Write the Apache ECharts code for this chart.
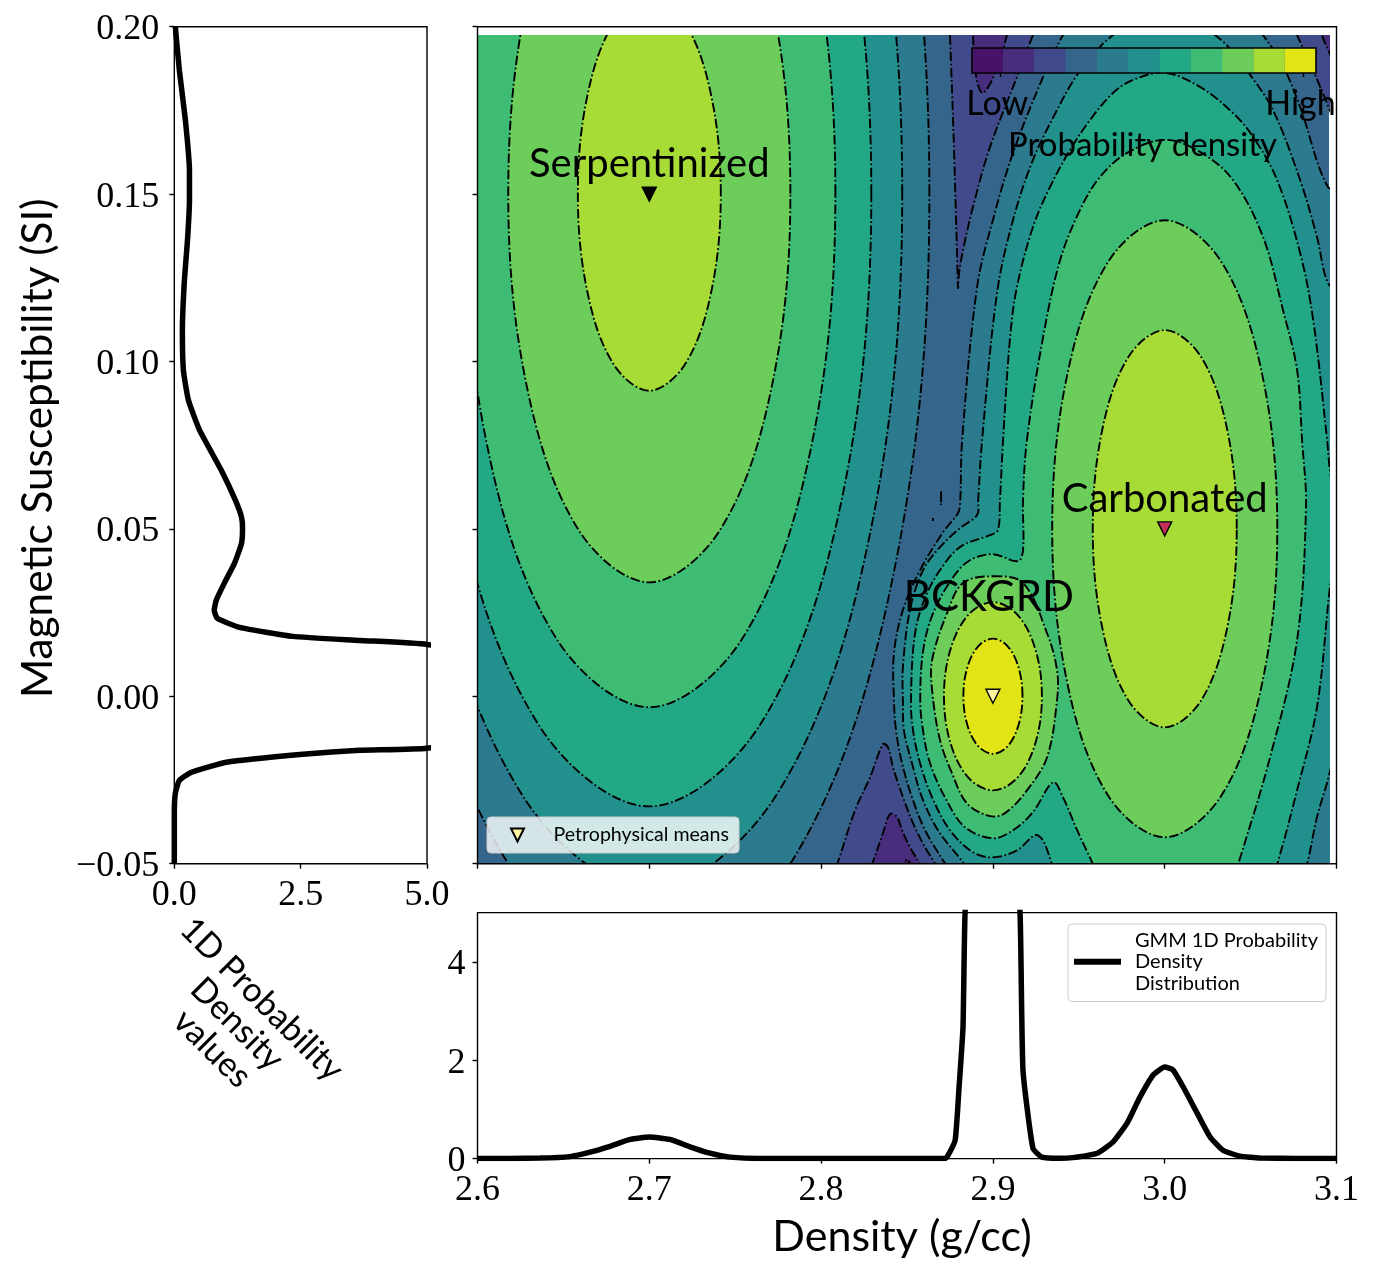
<!DOCTYPE html>
<html><head><meta charset="utf-8">
<style>html,body{margin:0;padding:0;background:#fff}#c{width:1373px;height:1276px}</style>
<script src="https://cdn.jsdelivr.net/npm/echarts@6/dist/echarts.min.js"></script>
</head><body><div id="c"></div>
<script>
// ---- colour bar / contour levels (cell 1 = lowest probability density)
const cellColors = ['#481268','#482d7c','#414a8a','#35658a','#2b7a8e','#22908c','#22a885','#3ebc74','#6ccd5b','#a6dc35','#e3e416'];
const cellIndex = [0,1,2,3,4,5,6,7,8,9,10];
const rockNames = ['Serpentinized','BCKGRD','Carbonated'];
const rockDensity = [2.7,2.9,3.0];
const rockSusceptibility = [0.15,0.0,0.05];
const rockColors = ['#000000','#fdf6a0','#c4305c'];

// ---- contour outlines: [density, susceptibility]
const pocketTop3 = [[2.8745,.2019],[2.875,.1974],[2.8774,.1622],[2.8791,.1323],[2.8797,.1219],[2.8803,.1264],[2.8826,.1332],[2.8884,.1461],[2.8983,.164],[2.914,.1849],[2.9233,.1974],[2.9274,.2019]];
const pocketTop2 = [[2.8878,.2019],[2.8884,.1974],[2.8896,.187],[2.8937,.1801],[2.8995,.184],[2.9059,.193],[2.9082,.1974],[2.9117,.2019]];
const valleyLow3 = [[2.8052,-.055],[2.8093,-.0502],[2.8197,-.0341],[2.8285,-.0242],[2.836,-.0143],[2.8389,-.0152],[2.8418,-.0212],[2.8477,-.0302],[2.8535,-.0379],[2.8605,-.0451],[2.8663,-.0499],[2.8721,-.055]];
const valleyLow2 = [[2.8255,-.055],[2.8296,-.0502],[2.836,-.0409],[2.8401,-.0352],[2.8442,-.0361],[2.8471,-.04],[2.8517,-.0451],[2.8576,-.0502],[2.8617,-.055]];
const valleyLow1 = [[2.8471,-.0526],[2.85,-.0487],[2.8529,-.0526]];
const cornerRight3 = [[3.073,.2019],[3.077,.1974],[3.0875,.1855],[3.0956,.1756],[3.1049,.1646],[3.1049,.2019]];
const cornerRight2 = [[3.0904,.2019],[3.0915,.1974],[3.0956,.1924],[3.1019,.1846],[3.1049,.2019]];
const serp5 = [[2.863,.15],[2.8412,.2658],[2.7815,.3505],[2.7,.3815],[2.6185,.3505],[2.5588,.2658],[2.537,.15],[2.5588,.0342],[2.6185,-.0505],[2.7,-.0815],[2.7815,-.0505],[2.8412,.0342]];
const serp6 = [[2.8472,.15],[2.8275,.2538],[2.7736,.3298],[2.7,.3576],[2.6264,.3298],[2.5725,.2538],[2.5528,.15],[2.5725,.0462],[2.6264,-.0298],[2.7,-.0576],[2.7736,-.0298],[2.8275,.0462]];
const serp7 = [[2.8292,.15],[2.8119,.2415],[2.7646,.3084],[2.7,.3329],[2.6354,.3084],[2.5881,.2415],[2.5708,.15],[2.5881,.0585],[2.6354,-.0084],[2.7,-.0329],[2.7646,-.0084],[2.8119,.0585]];
const serp8 = [[2.8083,.15],[2.7938,.2266],[2.7541,.2828],[2.7,.3033],[2.6459,.2828],[2.6062,.2266],[2.5917,.15],[2.6062,.0734],[2.6459,.0172],[2.7,-.0033],[2.7541,.0172],[2.7938,.0734]];
const serp9 = [[2.7821,.15],[2.7711,.208],[2.741,.2505],[2.7,.266],[2.659,.2505],[2.6289,.208],[2.6179,.15],[2.6289,.092],[2.659,.0495],[2.7,.034],[2.741,.0495],[2.7711,.092]];
const serp10 = [[2.7416,.15],[2.736,.1794],[2.7208,.2009],[2.7,.2088],[2.6792,.2009],[2.664,.1794],[2.6584,.15],[2.664,.1206],[2.6792,.0991],[2.7,.0912],[2.7208,.0991],[2.736,.1206]];
const merged5 = [[2.9478,.2019],[2.9408,.1974],[2.9292,.1849],[2.9117,.1622],[2.9,.1422],[2.8908,.1222],[2.8821,.0765],[2.8809,.0576],[2.8797,.0547],[2.871,.049],[2.8576,.0376],[2.8476,.0257],[2.8424,.0128],[2.8424,-.0012],[2.8436,-.0102],[2.8471,-.02],[2.8529,-.0302],[2.8605,-.04],[2.8721,-.0499],[2.879,-.055],[3.1049,-.055],[3.1049,.152],[3.095,.152],[3.0788,.1759],[3.0672,.19],[3.0572,.1974],[3.0525,.2019]];
const merged6 = [[2.9786,.2013],[2.9699,.1974],[2.9635,.1945],[2.949,.1855],[2.9373,.175],[2.9233,.1601],[2.9117,.1422],[2.9024,.1204],[2.8937,.0765],[2.8914,.0585],[2.8908,.0541],[2.8809,.0502],[2.8692,.0445],[2.8593,.0376],[2.8517,.0257],[2.8476,.0087],[2.8476,-.0012],[2.8482,-.0102],[2.8529,-.02],[2.8587,-.0302],[2.868,-.04],[2.8826,-.0496],[2.8896,-.055],[3.079,-.055],[3.0828,-.0502],[3.0886,-.0361],[3.0956,-.0236],[3.1049,-.0012],[3.1049,.1183],[3.095,.1234],[3.0886,.1371],[3.0788,.1541],[3.063,.175],[3.0497,.1855],[3.0369,.1939],[3.0293,.1974],[3.0205,.2013]];
const merged7 = [[3,.1861],[2.9816,.184],[2.9699,.1801],[2.9565,.172],[2.9449,.1631],[2.9332,.152],[2.9233,.1401],[2.914,.1222],[2.91,.1072],[2.9059,.0765],[2.9041,.0585],[2.9029,.0496],[2.8983,.0481],[2.8826,.0451],[2.8733,.0406],[2.8617,.0308],[2.8547,.0188],[2.8523,-.0012],[2.8535,-.0102],[2.8576,-.02],[2.8646,-.0302],[2.875,-.04],[2.8884,-.0466],[2.9,-.0481],[2.914,-.046],[2.9245,-.0415],[2.9291,-.043],[2.9344,-.0502],[2.9379,-.055],[3.0613,-.055],[3.0654,-.0502],[3.077,-.0281],[3.0886,-.0033],[3.0956,.0302],[3.0997,.0496],[3.0956,.0699],[3.0945,.0765],[3.0864,.1123],[3.0788,.1323],[3.0654,.1541],[3.0514,.167],[3.0397,.1741],[3.0205,.1819]];
const merged8 = [[3,.1661],[2.9781,.1622],[2.9623,.155],[2.9507,.1452],[2.9391,.1302],[2.9292,.1072],[2.9198,.0765],[2.9175,.0585],[2.9175,.0436],[2.9146,.0403],[2.9,.0424],[2.8866,.0406],[2.8768,.0355],[2.8652,.0248],[2.8594,.0137],[2.8577,-.0012],[2.8593,-.0102],[2.8634,-.02],[2.8721,-.0302],[2.8837,-.0391],[2.9,-.0424],[2.9117,-.04],[2.9233,-.0346],[2.935,-.0257],[2.9408,-.0302],[2.949,-.04],[2.9583,-.0502],[2.9623,-.055],[3.0392,-.055],[3.0427,-.0502],[3.0613,-.0182],[3.077,.0167],[3.0822,.0565],[3.0799,.0765],[3.077,.0974],[3.0688,.1153],[3.0572,.1371],[3.0397,.1541],[3.0205,.1625]];
const bck9 = [[2.9,.0358],[2.9175,.0338],[2.9315,.0188],[2.9373,.0078],[2.9373,-.0012],[2.9315,-.0182],[2.9198,-.0281],[2.907,-.0349],[2.8983,-.0358],[2.8849,-.032],[2.8762,-.023],[2.8692,-.0131],[2.8646,.0018],[2.8646,.0108],[2.8733,.0248],[2.8826,.0338]];
const bck10 = [[2.9285,0],[2.9247,.014],[2.9143,.0243],[2.9,.0281],[2.8857,.0243],[2.8753,.014],[2.8715,0],[2.8753,-.014],[2.8857,-.0243],[2.9,-.0281],[2.9143,-.0243],[2.9247,-.014]];
const bck11 = [[2.9172,0],[2.9149,.0086],[2.9086,.0149],[2.9,.0172],[2.8914,.0149],[2.8851,.0086],[2.8828,0],[2.8851,-.0086],[2.8914,-.0149],[2.9,-.0172],[2.9086,-.0149],[2.9149,-.0086]];
const carb9 = [[3.0655,.05],[3.0567,.0961],[3.0328,.1298],[3,.1421],[2.9672,.1298],[2.9433,.0961],[2.9345,.05],[2.9433,.0039],[2.9672,-.0298],[3,-.0421],[3.0328,-.0298],[3.0567,.0039]];
const carb10 = [[3.0419,.05],[3.0363,.0797],[3.021,.1014],[3,.1093],[2.979,.1014],[2.9637,.0797],[2.9581,.05],[2.9637,.0203],[2.979,-.0014],[3,-.0093],[3.021,-.0014],[3.0363,.0203]];
const specklePos = [[2.8698,.0612],[2.8698,.0571]];
const speckleDot = [[2.8651,.0532],[2.8651,.0523]];
const contourStack = [
  [3,pocketTop3],[2,pocketTop2],[3,valleyLow3],[2,valleyLow2],[1,valleyLow1],[3,cornerRight3],[2,cornerRight2],
  [5,serp5],[5,merged5],[4,specklePos],[4,speckleDot],[6,serp6],[6,merged6],[7,serp7],[7,merged7],[8,serp8],[8,merged8],
  [9,serp9],[9,bck9],[9,carb9],[10,serp10],[10,bck10],[10,carb10],[11,bck11]
];

// ---- 1D marginal curves
const suscCurveX = [.02,.1,.22,.3,.3,.26,.2,.16,.18,.28,.5,.93,1.21,1.33,1.35,1.33,1.19,.99,.83,.79,.85,1.29,2.34,3.67,5,12,5,3.67,2.54,1.03,.34,.1,.02,0,0];
const suscCurveY = [.2,.187,.172,.157,.148,.136,.1243,.1093,.0974,.0884,.0795,.0675,.0585,.0535,.0502,.0457,.0397,.0338,.0287,.0257,.0233,.0206,.0179,.0167,.0155,0,-.0155,-.0161,-.0173,-.0197,-.0227,-.0251,-.029,-.0355,-.05];
const densCurveX = [2.6,2.6364,2.6538,2.6655,2.6771,2.6888,2.7,2.712,2.7237,2.7353,2.747,2.7644,2.8,2.872,2.8733,2.878,2.8803,2.8826,2.8838,2.9,2.9158,2.9175,2.9233,2.9285,2.9391,2.9466,2.9606,2.97,2.9781,2.9856,2.9933,3.0,3.0049,3.0107,3.0188,3.0264,3.0339,3.0438,3.0555,3.1];
const densCurveY = [0,.01,.04,.13,.25,.39,.44,.39,.24,.11,.03,0,0,0,.03,.37,1.45,2.67,5,16,5,1.8,.21,.03,.005,.02,.11,.34,.72,1.25,1.7,1.86,1.8,1.46,.93,.44,.17,.05,.01,0];

const serifFont = '"Liberation Serif"';
const sansFont = 'Lato';
const INK = '#000';
const gmmName = 'GMM 1D Probability\nDensity\nDistribution';
const meansName = 'Petrophysical means';
const zip = (a,b)=>a.map((v,i)=>[v,b[i]]);

function tickAxis(extra){
  return Object.assign({type:'value',splitLine:{show:false},axisLine:{show:false,onZero:false},
    axisTick:{show:true,length:5,lineStyle:{color:INK,width:1.4}},
    axisLabel:{show:false}},extra);
}
const tickFont = {show:true,fontFamily:serifFont,fontSize:36,color:INK};
const lowerRich = {t:{fontFamily:serifFont,fontSize:36,color:INK,padding:[6,0,0,0]}};

const contourSeries = contourStack.map(([cell,pts],k)=>({
  type:'custom',xAxisIndex:1,yAxisIndex:1,clip:true,z:2+k*0.01,silent:true,animation:false,
  data:[pts[0]],encode:{x:0,y:1},
  renderItem:(p,api)=>({type:'polygon',
    shape:{points:pts.map(q=>api.coord(q)),smooth:0.35},
    style:{fill:cellColors[cell-1],stroke:'#000',lineWidth:1.9,lineDash:[9.5,2.6,1.7,2.6]}})
}));

const gridBase = {outerBoundsMode:'none',containLabel:false};
const option = {
  animation:false,
  backgroundColor:'#fff',
  grid:[
    Object.assign({left:477.5,top:26.7,width:859,height:837,show:true,backgroundColor:'transparent',borderColor:INK,borderWidth:1.4,z:10},gridBase),
    Object.assign({left:477.5,top:35,width:851.5,height:828.7,show:true,backgroundColor:cellColors[3],borderWidth:0,z:0},gridBase),
    Object.assign({left:174.3,top:26.7,width:252.7,height:837,show:true,backgroundColor:'transparent',borderColor:INK,borderWidth:1.4},gridBase),
    Object.assign({left:477.5,top:912.6,width:859,height:246,show:true,backgroundColor:'transparent',borderColor:INK,borderWidth:1.4},gridBase),
    Object.assign({left:972,top:48,width:344,height:25,show:true,backgroundColor:'transparent',borderColor:INK,borderWidth:1.6,z:16},gridBase)
  ],
  xAxis:[
    tickAxis({gridIndex:0,min:2.6,max:3.1,interval:0.1}),
    {type:'value',gridIndex:1,show:false,min:2.6,max:3.0956},
    tickAxis({gridIndex:2,min:0,max:5,interval:2.5,axisLabel:Object.assign({},tickFont,{margin:14,formatter:v=>v.toFixed(1)})}),
    tickAxis({gridIndex:3,min:2.6,max:3.1,interval:0.1,axisLabel:Object.assign({},tickFont,{margin:14,formatter:v=>v.toFixed(1)}),
      name:'Density (g/cc)',nameLocation:'middle',nameGap:57,nameTextStyle:{fontFamily:sansFont,fontSize:43,color:INK,padding:[0,10,0,0]}}),
    tickAxis({gridIndex:4,min:0,max:11,z:17,
      axisTick:{show:true,length:4,customValues:[0.9,10.6],lineStyle:{color:INK,width:1.4}},
      axisLabel:{show:true,customValues:[0.9,10.6],fontFamily:sansFont,fontSize:34,color:INK,margin:14,padding:[0,6,0,0],formatter:v=>v<5?'Low':'High'},
      name:'Probability density',nameLocation:'middle',nameGap:56,nameTextStyle:{fontFamily:sansFont,fontSize:33,color:INK,padding:[0,3,0,0]}})
  ],
  yAxis:[
    tickAxis({gridIndex:0,min:-0.05,max:0.2,interval:0.05}),
    {type:'value',gridIndex:1,show:false,min:-0.05,max:0.1974},
    tickAxis({gridIndex:2,min:-0.05,max:0.2,interval:0.05,
      axisLabel:Object.assign({},tickFont,{margin:15,rich:lowerRich,formatter:v=>'{t|'+v.toFixed(2).replace('-','\u2212')+'}'}),
      name:'Magnetic Susceptibility (SI)',nameLocation:'middle',nameGap:115,nameTextStyle:{fontFamily:sansFont,fontSize:42.3,color:INK,padding:[0,6,0,0]}}),
    tickAxis({gridIndex:3,min:0,max:5,
      axisTick:{show:true,length:5,customValues:[0,2,4],lineStyle:{color:INK,width:1.4}},
      axisLabel:Object.assign({},tickFont,{margin:12,rich:lowerRich,customValues:[0,2,4],formatter:v=>'{t|'+v+'}'})}),
    {type:'value',gridIndex:4,show:false,min:0,max:1}
  ],
  legend:[
    {data:[{name:meansName,icon:'path://M0 0L10 0L5 10Z'}],left:487,top:817,orient:'vertical',selectedMode:false,
     itemWidth:14,itemHeight:13,padding:[8,10,8,23],backgroundColor:'rgba(255,255,255,0.8)',borderColor:'#ccc',borderWidth:1,borderRadius:4,z:30,
     textStyle:{fontFamily:sansFont,fontSize:19.6,color:INK,padding:[0,0,0,24]}},
    {data:[{name:gmmName,icon:'rect'}],left:1068,top:924,orient:'vertical',selectedMode:false,
     itemWidth:47,itemHeight:6,padding:[5.5,8,7.5,6],backgroundColor:'#fff',borderColor:'#ccc',borderWidth:1,borderRadius:4,z:30,
     textStyle:{fontFamily:sansFont,fontSize:20,lineHeight:21.5,color:INK,padding:[0,0,0,9]}}
  ],
  graphic:[{type:'text',x:237,y:1024,rotation:-Math.PI/4,z:30,
    style:{text:'1D Probability\nDensity\nvalues',fontFamily:sansFont,fontSize:34,lineHeight:35,fill:INK,align:'center',verticalAlign:'middle'}}],
  series:[
    ...contourSeries,
    {type:'custom',name:'colorbar',xAxisIndex:4,yAxisIndex:4,z:15,silent:true,data:cellIndex.map(i=>[i,i+1]),encode:{x:[0,1]},
      renderItem:(p,api)=>{const a=api.coord([api.value(0),0]),b=api.coord([api.value(1),1]);
        return {type:'rect',shape:{x:a[0],y:b[1],width:b[0]-a[0],height:a[1]-b[1]},style:{fill:cellColors[api.value(0)]}};}},
    {type:'scatter',name:meansName,xAxisIndex:0,yAxisIndex:0,z:20,silent:true,
      symbol:'triangle',symbolRotate:180,symbolSize:[14,14],
      itemStyle:{color:rockColors[1],borderColor:'#000',borderWidth:1.4,opacity:1},
      data:rockNames.map((n,i)=>({name:n,value:[rockDensity[i],rockSusceptibility[i]],
        itemStyle:{color:rockColors[i],borderColor:'#000',borderWidth:1.4,opacity:1},
        label:{show:true,formatter:n,position:'top',distance:n==='BCKGRD'?70:2,offset:n==='BCKGRD'?[-4,0]:[0,0],opacity:1,
          fontFamily:sansFont,fontSize:n==='BCKGRD'?42:40,color:INK}}))},
    {type:'line',name:gmmName,xAxisIndex:3,yAxisIndex:3,z:5,silent:true,showSymbol:false,clip:true,smooth:0.15,
      lineStyle:{color:'#000',width:5.5},itemStyle:{color:'#000'},data:zip(densCurveX,densCurveY)},
    {type:'line',name:'suscCurve',xAxisIndex:2,yAxisIndex:2,z:5,silent:true,showSymbol:false,clip:true,smooth:0.15,
      lineStyle:{color:'#000',width:5.5},data:zip(suscCurveX,suscCurveY)}
  ]
};
echarts.init(document.getElementById('c'),null,{renderer:'canvas'}).setOption(option);
</script></body></html>
